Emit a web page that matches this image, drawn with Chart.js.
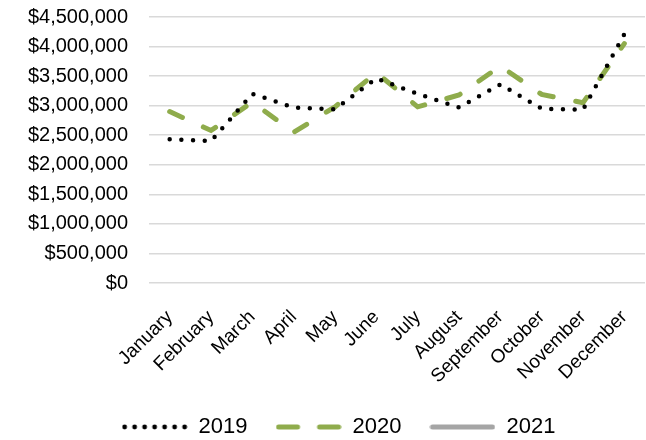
<!DOCTYPE html>
<html>
<head>
<meta charset="utf-8">
<script src="https://cdn.jsdelivr.net/npm/chart.js@4"></script>
<style>
  body { margin: 0; background: #fff; }
  #wrap { width: 646px; height: 440px; }
</style>
</head>
<body>
<div id="wrap"><canvas id="salesChart" width="646" height="440"></canvas></div>
<script>
const months = ["January", "February", "March", "April", "May", "June", "July",
  "August", "September", "October", "November", "December"];
const sales2019 = [2430000, 2400000, 3200000, 2970000, 2940000, 3460000,
  3200000, 2970000, 3360000, 2950000, 2930000, 4210000];
const sales2020 = [2900000, 2580000, 3060000, 2550000, 2980000, 3560000,
  2980000, 3180000, 3670000, 3190000, 3050000, 4050000];
const sales2021 = [];
const seriesNames = ["2019", "2020", "2021"];

const FONT = "'Liberation Sans', Arial, sans-serif";
const GREEN = "#8FAC4C";
const GREY = "#A5A5A5";

// small canvases used as legend samples
function legendSample(kind) {
  const c = document.createElement("canvas");
  c.width = 66;
  c.height = 10;
  const ctx = c.getContext("2d");
  ctx.lineCap = "round";
  ctx.beginPath();
  if (kind === "dots") {
    ctx.fillStyle = "#000";
    for (let i = 0; i < 7; i++) {
      ctx.beginPath();
      ctx.arc(3 + i * 10, 5, 2.4, 0, Math.PI * 2);
      ctx.fill();
    }
    return c;
  }
  if (kind === "dash") {
    ctx.strokeStyle = GREEN;
    ctx.lineWidth = 5;
    ctx.moveTo(3, 5); ctx.lineTo(22, 5);
    ctx.moveTo(44, 5); ctx.lineTo(63, 5);
    ctx.stroke();
    return c;
  }
  ctx.strokeStyle = GREY;
  ctx.lineWidth = 5;
  ctx.moveTo(3, 5); ctx.lineTo(63, 5);
  ctx.stroke();
  return c;
}
const samples = [legendSample("dots"), legendSample("dash"), legendSample("solid")];

// y labels stick out left of the padded scale, so widen its clip box;
// also stretch the dot spacing so the dotted line ends on a dot
const tweaks = {
  id: "tweaks",
  afterLayout(chart) {
    chart.scales.y.left = 0;
  },
  beforeDatasetsDraw(chart) {
    const meta = chart.getDatasetMeta(0);
    const pts = meta.data;
    let len = 0;
    for (let i = 1; i < pts.length; i++) {
      len += Math.hypot(pts[i].x - pts[i - 1].x, pts[i].y - pts[i - 1].y);
    }
    const n = Math.max(1, Math.round(len / 11.7));
    meta.dataset.options.borderDash = [0, len / n - 0.02];
  },
};

new Chart(document.getElementById("salesChart"), {
  type: "line",
  data: {
    labels: months,
    datasets: [
      {
        label: seriesNames[0],
        data: sales2019,
        borderColor: "#000",
        borderWidth: 4.5,
        borderDash: [0, 11.7],
        borderCapStyle: "round",
        pointRadius: 0,
        tension: 0,
      },
      {
        label: seriesNames[1],
        data: sales2020,
        borderColor: GREEN,
        borderWidth: 5,
        borderDash: [14, 23],
        borderCapStyle: "round",
        pointRadius: 0,
        tension: 0,
      },
      {
        label: seriesNames[2],
        data: sales2021,
        borderColor: GREY,
        borderWidth: 5,
        pointRadius: 0,
      },
    ],
  },
  plugins: [tweaks],
  options: {
    responsive: false,
    animation: false,
    layout: { padding: { left: 32, right: 1, top: 17, bottom: -8 } },
    plugins: {
      tooltip: { enabled: false },
      legend: {
        position: "bottom",
        labels: {
          usePointStyle: true,
          pointStyleWidth: 66,
          padding: 28,
          color: "#000",
          font: { family: FONT, size: 22 },
          generateLabels: (chart) =>
            chart.data.datasets.map((ds, i) => ({
              text: ds.label,
              pointStyle: samples[i],
              datasetIndex: i,
              hidden: false,
              fontColor: "#000",
              lineWidth: 0,
            })),
        },
      },
    },
    scales: {
      x: {
        offset: true,
        grid: { display: false },
        border: { display: false },
        ticks: {
          color: "#000",
          font: { family: FONT, size: 19 },
          minRotation: 45,
          maxRotation: 45,
          autoSkip: false,
          padding: 15,
        },
        afterFit: (scale) => {
          scale.height = 105;
          scale.paddingLeft = 0;
          scale.paddingRight = 0;
        },
      },
      y: {
        min: 0,
        max: 4500000,
        grid: { color: "#D9D9D9", lineWidth: 1.6, drawTicks: false },
        border: { display: false },
        ticks: {
          stepSize: 500000,
          color: "#000",
          padding: 21,
          font: { family: FONT, size: 20 },
          callback: (v) => "$" + v.toLocaleString("en-US"),
        },
        afterFit: (scale) => {
          scale.width = 117;
          scale.paddingTop = 0;
          scale.paddingBottom = 0;
        },
      },
    },
  },
});
</script>
</body>
</html>
